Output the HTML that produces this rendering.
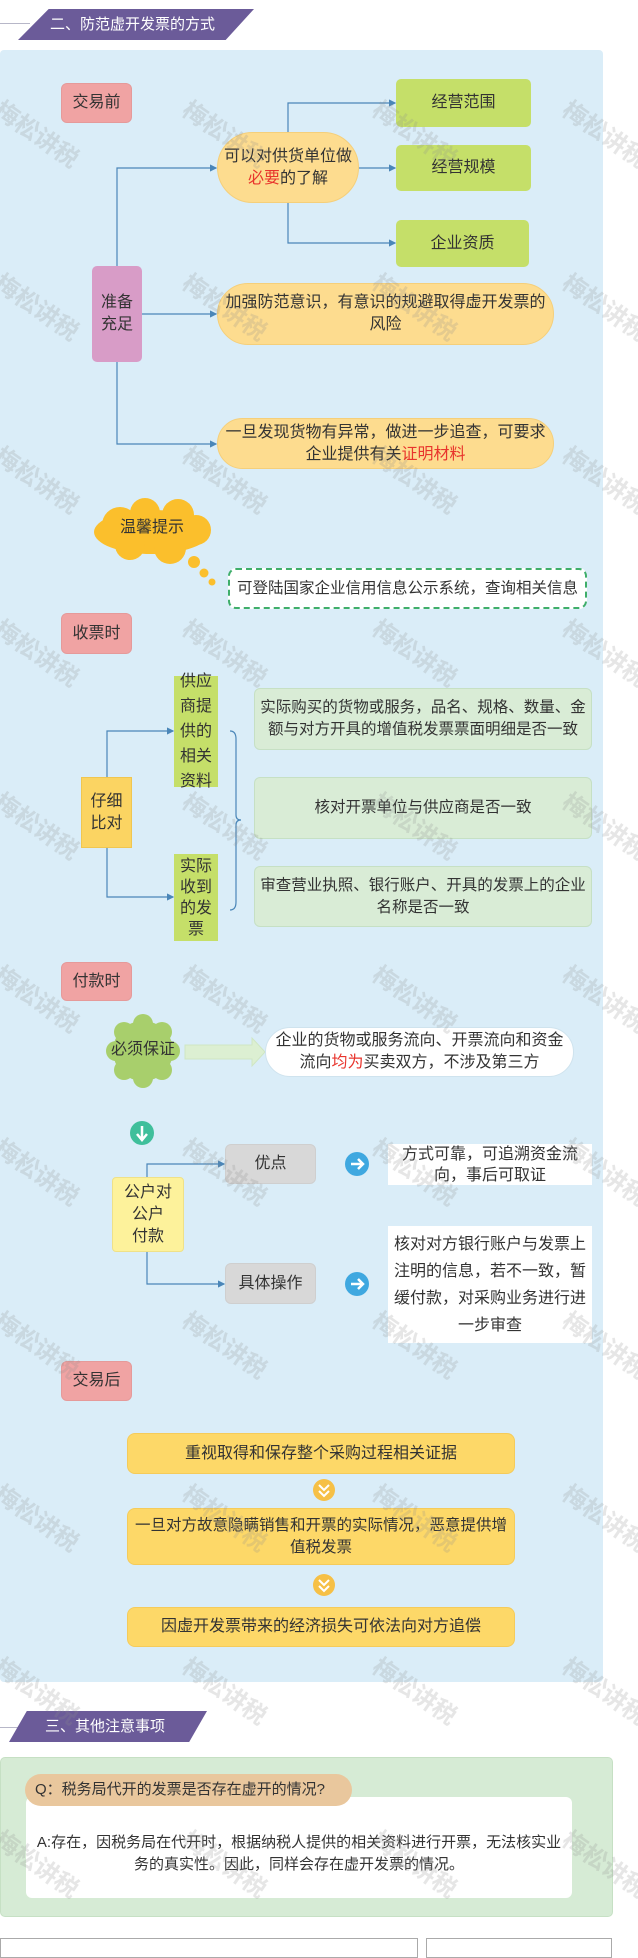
<!DOCTYPE html>
<html><head><meta charset="utf-8"><style>
*{margin:0;padding:0;box-sizing:border-box}
body{width:638px;height:1947px;background:#fff;position:relative;overflow:hidden;font-family:"Liberation Sans","Noto Sans CJK SC",sans-serif;color:#333;font-size:16px}
.a{position:absolute;display:flex;align-items:center;justify-content:center;text-align:center;line-height:22px}
.a>p{width:100%}
.tag{background:#f0a3a3;border-radius:6px;border:1px solid #e59a9a}
.lg{background:#c5df69;border-radius:5px}
.ov{background:#fddc8f;border-radius:36px;border:1px solid #f5cf7a}
.gb{background:#d9ecd6;border:1px solid #c6e0c4;border-radius:6px;font-size:15.5px}
.gr{background:#d8d8d8;border:1px solid #cfcfcf;border-radius:6px}
.wb{background:#fff}
.yb{background:#fdd868;border-radius:8px;border:1px solid #f5cb5a}
.r{color:#e8342c}
.wm{position:absolute;color:rgba(140,140,140,.22);font-size:24px;transform:rotate(35deg);white-space:nowrap;font-weight:bold}
</style></head><body>
<div style="position:absolute;left:0;top:23px;width:30px;height:1px;background:#b7b7c8"></div>
<div class="a" style="left:18px;top:9px;width:236px;height:31px;background:#6b5b99;clip-path:polygon(13% 0,100% 0,88% 100%,0 100%);color:#fff;font-size:15px;justify-content:flex-start;padding-left:32px">二、防范虚开发票的方式</div>
<div style="position:absolute;left:0;top:50px;width:603px;height:1632px;background:#daedf8;border-radius:4px"></div>

<svg style="position:absolute;left:0;top:0" width="638" height="1947">
<defs><marker id="m" markerWidth="6" markerHeight="6" refX="5" refY="3" orient="auto"><path d="M0,0L6,3L0,6z" fill="#4a86b8"/></marker></defs>
<g stroke="#4a86b8" stroke-width="1.2" fill="none">
<path d="M117,266V168H216" marker-end="url(#m)"/>
<path d="M142,314H216" marker-end="url(#m)"/>
<path d="M117,362V444H216" marker-end="url(#m)"/>
<path d="M288,132V103H395" marker-end="url(#m)"/>
<path d="M359,168H395" marker-end="url(#m)"/>
<path d="M288,203V243H395" marker-end="url(#m)"/>
<path d="M107,777V731H173" marker-end="url(#m)"/>
<path d="M107,848V897H173" marker-end="url(#m)"/>
<path d="M230,731q6,0 6,8V815q0,5 5,5q-5,0 -5,5V902q0,8 -6,8"/>
<path d="M147,1177V1164H224" marker-end="url(#m)"/>
<path d="M147,1252V1284H224" marker-end="url(#m)"/>
</g>
<path d="M185,1045H252V1038L265,1052L252,1066V1059H185Z" fill="#dcefd2" stroke="#cfe6c3"/>
<circle cx="142" cy="1133" r="12" fill="#3fbf9b"/><path d="M142,1126V1139M137,1134L142,1140L147,1134" stroke="#fff" stroke-width="2.5" fill="none"/>
<circle cx="357" cy="1164" r="12" fill="#3fa8e0"/><path d="M351,1164H362M358,1159L363,1164L358,1169" stroke="#fff" stroke-width="2.5" fill="none"/>
<circle cx="357" cy="1284" r="12" fill="#3fa8e0"/><path d="M351,1284H362M358,1279L363,1284L358,1289" stroke="#fff" stroke-width="2.5" fill="none"/>
<circle cx="324" cy="1490" r="11" fill="#f6c046"/><path d="M319,1485L324,1490L329,1485M319,1491L324,1496L329,1491" stroke="#fff" stroke-width="2" fill="none"/>
<circle cx="324" cy="1585" r="11" fill="#f6c046"/><path d="M319,1580L324,1585L329,1580M319,1586L324,1591L329,1586" stroke="#fff" stroke-width="2" fill="none"/>
<g fill="#fbbf2c"><ellipse cx="152" cy="532" rx="58" ry="22"/><circle cx="120" cy="525" r="18"/><circle cx="145" cy="513" r="15"/><circle cx="178" cy="515" r="16"/><circle cx="196" cy="530" r="15"/><circle cx="170" cy="548" r="16"/><circle cx="130" cy="545" r="15"/>
<circle cx="194" cy="562" r="6"/><circle cx="204" cy="573" r="4.5"/><circle cx="212" cy="582" r="3.5"/></g>
<g fill="#a8cf6c"><circle cx="143" cy="1051" r="30"/><circle cx="143" cy="1024" r="10"/><circle cx="143" cy="1078" r="10"/><circle cx="116" cy="1051" r="10"/><circle cx="170" cy="1051" r="10"/><circle cx="124" cy="1032" r="10"/><circle cx="162" cy="1032" r="10"/><circle cx="124" cy="1070" r="10"/><circle cx="162" cy="1070" r="10"/></g>
</svg>

<div class="a tag" style="left:61px;top:83px;width:71px;height:40px"><p>交易前</p></div>
<div class="a lg" style="left:396px;top:79px;width:135px;height:48px"><p>经营范围</p></div>
<div class="a lg" style="left:396px;top:145px;width:135px;height:46px"><p>经营规模</p></div>
<div class="a lg" style="left:396px;top:220px;width:133px;height:47px"><p>企业资质</p></div>
<div class="a ov" style="left:217px;top:132px;width:142px;height:71px"><p>可以对供货单位做<br><span class="r">必要</span>的了解</p></div>
<div class="a" style="left:92px;top:266px;width:50px;height:96px;background:#d89cc7;border-radius:5px"><p>准备<br>充足</p></div>
<div class="a ov" style="left:217px;top:283px;width:337px;height:62px;padding:0 6px"><p>加强防范意识，有意识的规避取得虚开发票的风险</p></div>
<div class="a ov" style="left:217px;top:418px;width:337px;height:51px;padding:0 6px"><p>一旦发现货物有异常，做进一步追查，可要求企业提供有关<span class="r">证明材料</span></p></div>

<div class="a" style="left:112px;top:513px;width:80px;height:30px"><p>温馨提示</p></div>
<div class="a" style="left:228px;top:568px;width:359px;height:41px;border:2.5px dashed #3fae6a;border-radius:8px;background:#fff;font-size:15.5px"><p>可登陆国家企业信用信息公示系统，查询相关信息</p></div>

<div class="a tag" style="left:61px;top:613px;width:71px;height:41px"><p>收票时</p></div>
<div class="a lg" style="left:174px;top:676px;width:44px;height:111px;border-radius:0;line-height:25px"><p>供应<br>商提<br>供的<br>相关<br>资料</p></div>
<div class="a" style="left:81px;top:777px;width:51px;height:71px;background:#fbd462;border:1px solid #f0c650"><p>仔细<br>比对</p></div>
<div class="a lg" style="left:174px;top:854px;width:44px;height:87px;border-radius:0;line-height:21px"><p>实际<br>收到<br>的发<br>票</p></div>
<div class="a gb" style="left:254px;top:688px;width:338px;height:62px"><p>实际购买的货物或服务，品名、规格、数量、金额与对方开具的增值税发票票面明细是否一致</p></div>
<div class="a gb" style="left:254px;top:777px;width:338px;height:62px"><p>核对开票单位与供应商是否一致</p></div>
<div class="a gb" style="left:254px;top:866px;width:338px;height:61px"><p>审查营业执照、银行账户、开具的发票上的企业名称是否一致</p></div>

<div class="a tag" style="left:61px;top:962px;width:71px;height:39px"><p>付款时</p></div>
<div class="a" style="left:107px;top:1030px;width:72px;height:40px"><p>必须保证</p></div>
<div class="a wb" style="left:265px;top:1027px;width:309px;height:50px;border-radius:25px;border:1px solid #cfe3ee;padding:0 4px"><p>企业的货物或服务流向、开票流向和资金流向<span class="r">均为</span>买卖双方，不涉及第三方</p></div>
<div class="a gr" style="left:225px;top:1144px;width:91px;height:40px"><p>优点</p></div>
<div class="a" style="left:112px;top:1177px;width:72px;height:75px;background:#fdf29b;border:1px solid #efe188;border-radius:4px"><p>公户对<br>公户<br>付款</p></div>
<div class="a gr" style="left:225px;top:1263px;width:91px;height:41px"><p>具体操作</p></div>
<div class="a wb" style="left:388px;top:1144px;width:204px;height:41px;padding:0 6px;line-height:21px"><p>方式可靠，可追溯资金流向，事后可取证</p></div>
<div class="a wb" style="left:388px;top:1226px;width:204px;height:117px;padding:0 5px;line-height:27px"><p>核对对方银行账户与发票上注明的信息，若不一致，暂缓付款，对采购业务进行进一步审查</p></div>

<div class="a tag" style="left:61px;top:1361px;width:71px;height:40px"><p>交易后</p></div>
<div class="a yb" style="left:127px;top:1433px;width:388px;height:41px"><p>重视取得和保存整个采购过程相关证据</p></div>
<div class="a yb" style="left:127px;top:1508px;width:388px;height:57px;padding:0 2px;font-size:15.5px"><p>一旦对方故意隐瞒销售和开票的实际情况，恶意提供增值税发票</p></div>
<div class="a yb" style="left:127px;top:1607px;width:388px;height:40px"><p>因虚开发票带来的经济损失可依法向对方追偿</p></div>

<div style="position:absolute;left:0;top:1727px;width:20px;height:1px;background:#b7b7c8"></div>
<div class="a" style="left:9px;top:1711px;width:198px;height:31px;background:#6b5b99;clip-path:polygon(9% 0,100% 0,91% 100%,0 100%);color:#fff;font-size:15px;justify-content:flex-start;padding-left:36px">三、其他注意事项</div>
<div style="position:absolute;left:0;top:1757px;width:613px;height:160px;background:#d6ebd5;border-radius:5px;border:1px solid #c6e0c4"></div>
<div class="a wb" style="left:26px;top:1797px;width:546px;height:101px;border-radius:6px;padding:12px 4px 0;font-size:15px"><p>A:存在，因税务局在代开时，根据纳税人提供的相关资料进行开票，无法核实业务的真实性。因此，同样会存在虚开发票的情况。</p></div>
<div class="a" style="left:25px;top:1774px;width:327px;height:32px;background:#e9c79d;border-radius:16px;justify-content:flex-start;padding-left:10px;font-size:15px">Q：税务局代开的发票是否存在虚开的情况?</div>
<div style="position:absolute;left:0;top:1938px;width:418px;height:20px;border:1px solid #aaa"></div>
<div style="position:absolute;left:426px;top:1938px;width:186px;height:20px;border:1px solid #aaa"></div>

<div class="wm" style="left:-10px;top:115px">梅松讲税</div><div class="wm" style="left:178px;top:115px">梅松讲税</div><div class="wm" style="left:368px;top:115px">梅松讲税</div><div class="wm" style="left:558px;top:115px">梅松讲税</div>
<div class="wm" style="left:-10px;top:288px">梅松讲税</div><div class="wm" style="left:178px;top:288px">梅松讲税</div><div class="wm" style="left:368px;top:288px">梅松讲税</div><div class="wm" style="left:558px;top:288px">梅松讲税</div>
<div class="wm" style="left:-10px;top:461px">梅松讲税</div><div class="wm" style="left:178px;top:461px">梅松讲税</div><div class="wm" style="left:368px;top:461px">梅松讲税</div><div class="wm" style="left:558px;top:461px">梅松讲税</div>
<div class="wm" style="left:-10px;top:634px">梅松讲税</div><div class="wm" style="left:178px;top:634px">梅松讲税</div><div class="wm" style="left:368px;top:634px">梅松讲税</div><div class="wm" style="left:558px;top:634px">梅松讲税</div>
<div class="wm" style="left:-10px;top:807px">梅松讲税</div><div class="wm" style="left:178px;top:807px">梅松讲税</div><div class="wm" style="left:368px;top:807px">梅松讲税</div><div class="wm" style="left:558px;top:807px">梅松讲税</div>
<div class="wm" style="left:-10px;top:980px">梅松讲税</div><div class="wm" style="left:178px;top:980px">梅松讲税</div><div class="wm" style="left:368px;top:980px">梅松讲税</div><div class="wm" style="left:558px;top:980px">梅松讲税</div>
<div class="wm" style="left:-10px;top:1153px">梅松讲税</div><div class="wm" style="left:178px;top:1153px">梅松讲税</div><div class="wm" style="left:368px;top:1153px">梅松讲税</div><div class="wm" style="left:558px;top:1153px">梅松讲税</div>
<div class="wm" style="left:-10px;top:1326px">梅松讲税</div><div class="wm" style="left:178px;top:1326px">梅松讲税</div><div class="wm" style="left:368px;top:1326px">梅松讲税</div><div class="wm" style="left:558px;top:1326px">梅松讲税</div>
<div class="wm" style="left:-10px;top:1499px">梅松讲税</div><div class="wm" style="left:178px;top:1499px">梅松讲税</div><div class="wm" style="left:368px;top:1499px">梅松讲税</div><div class="wm" style="left:558px;top:1499px">梅松讲税</div>
<div class="wm" style="left:-10px;top:1672px">梅松讲税</div><div class="wm" style="left:178px;top:1672px">梅松讲税</div><div class="wm" style="left:368px;top:1672px">梅松讲税</div><div class="wm" style="left:558px;top:1672px">梅松讲税</div>
<div class="wm" style="left:-10px;top:1845px">梅松讲税</div><div class="wm" style="left:178px;top:1845px">梅松讲税</div><div class="wm" style="left:368px;top:1845px">梅松讲税</div><div class="wm" style="left:558px;top:1845px">梅松讲税</div>
</body></html>
